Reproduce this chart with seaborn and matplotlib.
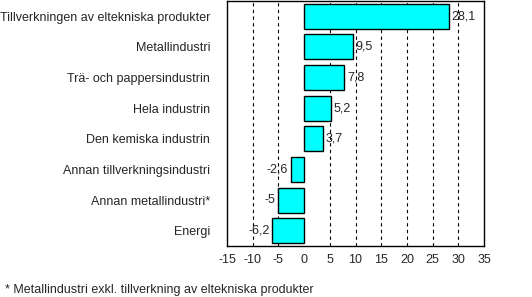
import matplotlib
matplotlib.use("Agg")
import matplotlib.pyplot as plt
import seaborn as sns
import pandas as pd

categories = ["Tillverkningen av eltekniska produkter", "Metallindustri",
              "Trä- och pappersindustrin", "Hela industrin", "Den kemiska industrin",
              "Annan tillverkningsindustri", "Annan metallindustri*", "Energi"]
values = [28.1, 9.5, 7.8, 5.2, 3.7, -2.6, -5, -6.2]
xticks = [-15, -10, -5, 0, 5, 10, 15, 20, 25, 30, 35]
footnote = "* Metallindustri exkl. tillverkning av eltekniska produkter"

sns.set_style("white")
plt.rcParams['font.family'] = ['Liberation Sans', 'DejaVu Sans']

df = pd.DataFrame({"cat": categories, "val": values})
fig = plt.figure(figsize=(5.32, 2.97), dpi=100)
ax = fig.add_axes([227/532, 1-246/297, (484-227)/532, 245/297])
sns.barplot(data=df, x="val", y="cat", orient="h", color="#00FFFF",
            edgecolor="black", linewidth=1, width=0.82, saturation=1, ax=ax)
ax.set_xlim(-15, 35)
ax.set_xticks(xticks)
ax.set_xticklabels([str(t) for t in xticks])
ax.set_xlabel("")
ax.set_ylabel("")
for t in xticks:
    if t not in (-15, 0, 35):
        ax.axvline(t, color="black", linestyle=(0, (3, 3)), linewidth=0.8, zorder=0)
ax.tick_params(axis="both", length=0, labelsize=9)
ax.tick_params(axis="y", pad=12)
ax.tick_params(axis="x", pad=6)
for s in ax.spines.values():
    s.set_visible(True)
    s.set_color("black")
    s.set_linewidth(1)
ax.bar_label(ax.containers[0], labels=[str(v).replace(".", ",") for v in values],
             padding=2, fontsize=9)
fig.text(5/532, 1-290/297, footnote, fontsize=9, va="center", ha="left")
fig.savefig("out.png", dpi=100)
